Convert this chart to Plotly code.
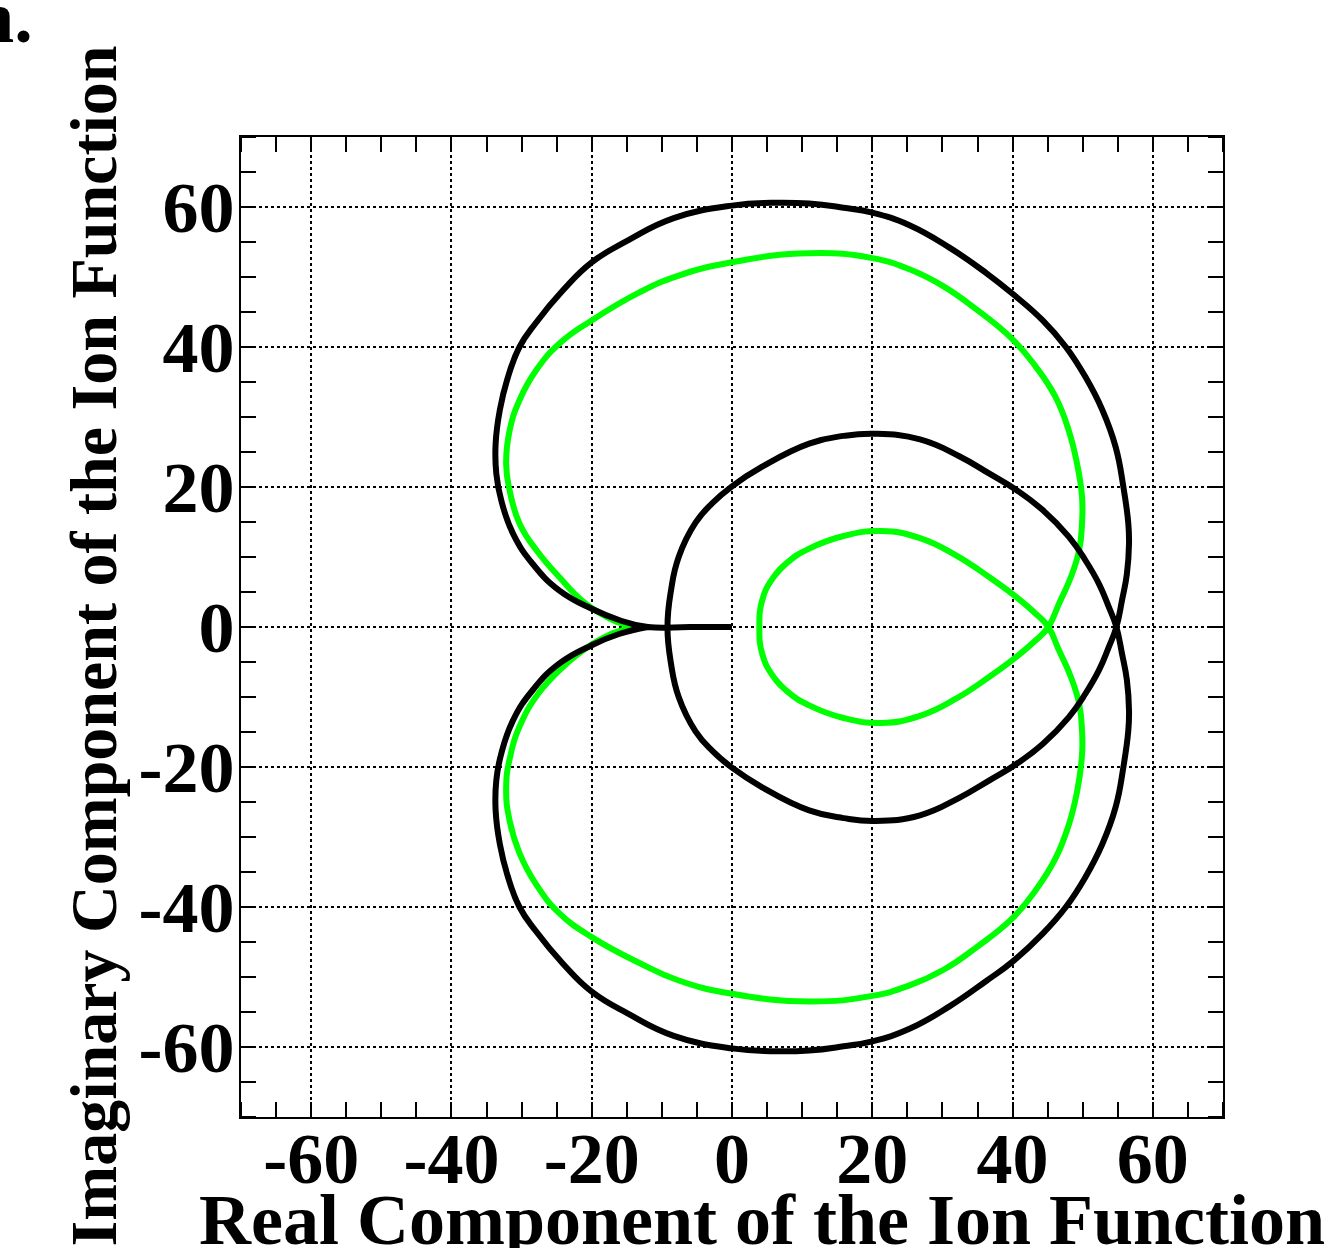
import plotly.graph_objects as go

# ---- data ----
black_x = [0.0, -6.0, -12.0,
           -16.1, -20.0, -24.6, -28.4, -31.2, -32.9, -33.6, -33.7, -33.1, -32.0, -30.3, -28.0, -24.1, -20.0,
           -14.7, -8.3, 0.0, 5.5, 11.0, 15.9, 20.0, 25.3, 31.0, 36.2, 40.0, 44.3, 47.6, 50.4, 52.8, 54.7,
           55.8, 56.5, 56.6, 56.3, 55.6, 54.8,
           53.7, 52.3, 50.4, 48.0, 44.3, 40.5, 36.7, 32.4, 26.8, 20.4, 15.9, 11.0, 4.3, 0.0, -2.8, -5.2, -7.6, -8.7, -9.2,
           -8.7, -7.6, -5.2, -2.8, 0.0, 4.3, 11.0, 15.9, 20.4, 26.8, 32.4, 36.7, 40.5, 44.3, 48.0, 50.4, 52.3, 53.7, 54.8,
           55.6, 56.3, 56.6, 56.5, 55.8, 54.7, 52.8, 50.4, 47.6, 44.3, 40.0, 36.2, 31.0, 25.3, 20.0, 15.9, 11.0, 5.5, 0.0,
           -8.3, -14.7, -20.0, -24.1, -28.0, -30.3, -32.0, -33.1, -33.7, -33.6, -32.9, -31.2, -28.4, -24.6, -20.0, -16.1, -12.0]
black_y = [0.0, 0.0, 0.0,
           1.0, 2.6, 5.2, 9.0, 13.3, 18.1, 21.9, 26.2, 31.0, 35.5, 40.0, 43.4, 48.1, 52.1,
           55.3, 58.4, 60.2, 60.6, 60.5, 59.9, 59.2, 57.4, 54.2, 50.6, 47.6, 43.8, 40.0, 35.7, 31.0, 25.7,
           20.0, 14.8, 11.9, 7.6, 3.8, 0.0,
           -2.9, -6.2, -9.5, -12.9, -16.7, -19.6, -21.9, -24.4, -26.9, -27.7, -27.3, -26.2, -22.9, -20.1, -17.7, -14.9, -10.0, -5.2, 0.0,
           5.2, 10.0, 14.9, 17.7, 20.1, 22.9, 26.2, 27.3, 27.6, 26.8, 24.4, 21.9, 19.6, 16.7, 12.9, 9.5, 6.2, 2.9, 0.0,
           -3.8, -7.6, -11.9, -14.8, -20.0, -25.7, -31.0, -35.7, -40.0, -43.8, -47.8, -50.6, -54.2, -57.4, -59.2, -59.9, -60.5, -60.6, -60.2,
           -58.4, -55.3, -52.1, -48.1, -43.4, -40.0, -35.5, -31.0, -26.2, -21.9, -18.1, -13.3, -9.0, -5.2, -2.6, -1.0, 0.0]

green_x = [-14.7, -17.0, -20.8, -24.6, -27.9, -30.3, -31.7, -32.2, -31.7, -30.3, -27.9, -24.6, -20.0, -13.2, -7.6,
           0.0, 11.0, 20.0, 25.3, 30.1, 34.8, 40.0, 43.3, 46.1, 48.0, 49.2, 49.9, 49.9, 49.5, 48.3, 46.6, 45.1,
           43.3, 40.5, 36.7, 32.0, 26.8, 21.3, 15.9, 11.0, 8.0, 5.7, 4.3, 3.9,
           4.3, 5.7, 8.0, 11.0, 15.9, 21.3, 26.8, 32.0, 36.7, 40.5, 43.3, 45.1,
           46.6, 48.3, 49.5, 49.9, 49.9, 49.2, 48.0, 46.1, 43.3, 40.0, 34.8, 30.1, 25.3, 20.0, 11.0, 0.0,
           -7.6, -13.2, -20.0, -24.6, -27.9, -30.3, -31.7, -32.2, -31.6, -30.1, -27.6, -24.3, -20.6, -17.0, -14.7]
green_y = [0.0, 1.0, 3.3, 7.1, 11.0, 14.8, 19.5, 23.3, 28.1, 32.4, 36.7, 40.5, 43.8, 47.8, 50.2,
           52.1, 53.4, 52.7, 51.1, 48.7, 45.4, 41.1, 37.2, 32.9, 28.1, 23.3, 18.6, 14.8, 11.0, 7.1, 3.3, 0.0,
           -1.9, -4.3, -7.1, -10.2, -12.7, -13.7, -13.0, -11.2, -9.3, -6.8, -3.8, 0.0,
           3.8, 6.8, 9.3, 11.2, 13.0, 13.7, 12.7, 10.2, 7.1, 4.3, 1.9, 0.0,
           -3.3, -7.1, -11.0, -14.8, -18.3, -23.5, -28.3, -33.1, -37.6, -41.6, -45.8, -49.0, -51.2, -52.7, -53.5, -52.4,
           -50.5, -48.0, -44.3, -40.9, -36.8, -32.3, -27.7, -23.0, -18.4, -13.8, -9.5, -5.9, -2.9, -0.9, 0.0]

tick_vals = [-60, -40, -20, 0, 20, 40, 60]
tick_text = ["-60", "-40", "-20", "0", "20", "40", "60"]

x_title = "Real Component of the Ion Function"
y_title = "Imaginary Component of the Ion Function"
corner_text = "n."

# ---- figure ----
W, H = 1331, 1248
L, R, T, B = 241, 1331 - 1223, 137, 1248 - 1117
pw, ph = W - L - R, H - T - B

FONT = "Liberation Serif"

fig = go.Figure()
fig.add_trace(go.Scatter(x=green_x, y=green_y, mode="lines",
                         line=dict(color="#00ff00", width=6, shape="spline", smoothing=1.3),
                         showlegend=False, hoverinfo="skip"))
fig.add_trace(go.Scatter(x=black_x, y=black_y, mode="lines",
                         line=dict(color="black", width=6, shape="spline", smoothing=1.3),
                         showlegend=False, hoverinfo="skip"))

axis_common = dict(
    range=[-70, 70],
    tickmode="array", tickvals=tick_vals, ticktext=tick_text,
    ticks="", showline=True, linecolor="black", linewidth=2, mirror="allticks",
    showgrid=True, gridcolor="black", gridwidth=1.8, griddash="3px,3px",
    zeroline=False,
    tickfont=dict(family=FONT, size=72, color="black", weight="bold"),
    minor=dict(tickmode="linear", tick0=0, dtick=5, ticks="inside", ticklen=15,
               tickwidth=2, tickcolor="black", showgrid=False),
)

fig.update_xaxes(**axis_common)
fig.update_yaxes(**axis_common)
fig.update_yaxes(ticklabelstandoff=-10)
fig.update_xaxes(ticklabelstandoff=-22)


def px_x(px):
    return (px - L) / pw


def px_y(py):
    return (H - B - py) / ph


fig.update_layout(
    width=W, height=H,
    margin=dict(l=L, r=R, t=T, b=B, autoexpand=False),
    paper_bgcolor="white", plot_bgcolor="white",
    annotations=[
        dict(text=x_title, xref="paper", yref="paper", x=px_x(1327), y=px_y(1178),
             xanchor="right", yanchor="top", showarrow=False,
             font=dict(family=FONT, size=72, color="black", weight="bold")),
        dict(text=y_title, xref="paper", yref="paper", x=px_x(93), y=px_y(44),
             xanchor="center", yanchor="top", textangle=-90, showarrow=False,
             font=dict(family=FONT, size=66, color="black", weight="bold")),
        dict(text=corner_text, xref="paper", yref="paper", x=px_x(35), y=px_y(-26),
             xanchor="right", yanchor="top", showarrow=False,
             font=dict(family=FONT, size=74, color="black", weight="bold")),
    ],
)

fig.write_html("out.html")
